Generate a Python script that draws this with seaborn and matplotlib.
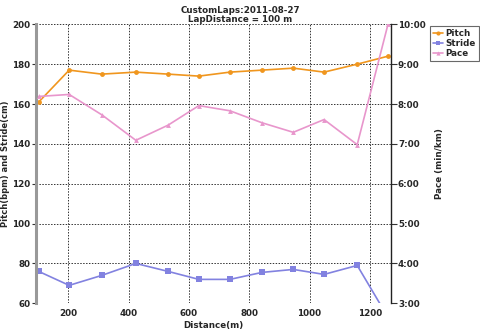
import matplotlib
matplotlib.use("Agg")
import matplotlib.pyplot as plt
import seaborn as sns
import pandas as pd
from matplotlib.ticker import FuncFormatter, MultipleLocator
from matplotlib.lines import Line2D

# Lap data
distance = [102, 203, 311, 424, 531, 633, 736, 842, 946, 1048, 1158, 1260]
pitch = [161, 177, 175, 176, 175, 174, 176, 177, 178, 176, 180, 184]
stride = [76, 69, 74, 80, 76, 72, 72, 75.5, 77, 74.5, 79, 53]
pace = [8.19, 8.24, 7.73, 7.09, 7.47, 7.96, 7.83, 7.53, 7.29, 7.61, 6.98, 10.0]

df = pd.DataFrame({"distance": distance, "pitch": pitch, "stride": stride, "pace": pace})

sns.set_style("white")
plt.rcParams["font.family"] = ["DejaVu Sans"]

C_PITCH = "#F0961E"
C_STRIDE = "#8282E0"
C_PACE = "#E896CC"

fig = plt.figure(figsize=(4.8, 3.31), dpi=100)
ax = fig.add_axes([36 / 480, 1 - 303.3 / 331, (391 - 36) / 480, (303.3 - 24.3) / 331])
ax2 = ax.twinx()

sns.lineplot(data=df, x="distance", y="pitch", ax=ax, color=C_PITCH, marker="o",
             markersize=3.5, markeredgewidth=0, linewidth=1.2)
sns.lineplot(data=df, x="distance", y="stride", ax=ax, color=C_STRIDE, marker="s",
             markersize=4, markeredgewidth=0, linewidth=1.2)
sns.lineplot(data=df, x="distance", y="pace", ax=ax2, color=C_PACE, marker="^",
             markersize=3.5, markeredgewidth=0, linewidth=1.2)

ax.set_xlim(93, 1270)
ax.set_ylim(60, 200)
ax2.set_ylim(3, 10)
ax.xaxis.set_major_locator(MultipleLocator(200))
ax.yaxis.set_major_locator(MultipleLocator(20))
ax2.yaxis.set_major_locator(MultipleLocator(1))
ax2.yaxis.set_major_formatter(FuncFormatter(lambda v, p: f"{int(round(v))}:00"))

ax.grid(True, color="#333333", linestyle=(0, (1.5, 1.5)), linewidth=0.7)
ax.set_axisbelow(True)

fs = 6.3
ax.tick_params(axis="both", labelsize=fs, length=3, width=0.8, color="#333333", pad=1)
ax2.tick_params(axis="y", labelsize=fs, length=4, width=0.8, color="#333333", pad=1)
for lab in ax.get_xticklabels() + ax.get_yticklabels() + ax2.get_yticklabels():
    lab.set_fontweight("bold")

for a in (ax, ax2):
    for s in a.spines.values():
        s.set_visible(False)
ax.spines["left"].set_visible(True)
ax.spines["left"].set_color("#999999")
ax.spines["left"].set_linewidth(2.2)
ax2.spines["right"].set_visible(True)
ax2.spines["right"].set_color("#222222")
ax2.spines["right"].set_linewidth(1.0)

ax.set_xlabel("Distance(m)", fontsize=fs, fontweight="bold", labelpad=2)
ax.set_ylabel("Pitch(bpm) and Stride(cm)", fontsize=6, fontweight="bold")
ax.yaxis.set_label_coords(-0.072, 0.5)
ax2.set_ylabel("Pace (min/km)", fontsize=fs, fontweight="bold", labelpad=7)

fig.text(0.5, 1 - 6 / 331, "CustomLaps:2011-08-27\nLapDistance = 100 m", ha="center",
         va="top", fontsize=fs, fontweight="bold", linespacing=1.0)

handles = [
    Line2D([], [], color=C_PITCH, marker="o", markersize=3, linewidth=1.2, markeredgewidth=0),
    Line2D([], [], color=C_STRIDE, marker="s", markersize=3.5, linewidth=1.2, markeredgewidth=0),
    Line2D([], [], color=C_PACE, marker="^", markersize=3, linewidth=1.2, markeredgewidth=0),
]
leg = fig.legend(handles, ["Pitch", "Stride", "Pace"], loc="upper left",
                 bbox_to_anchor=(430 / 480, 1 - 26 / 331), fontsize=fs, frameon=True,
                 fancybox=False, handlelength=1.2, handletextpad=0.3, borderpad=0.3,
                 labelspacing=0.15, borderaxespad=0)
leg.get_frame().set_edgecolor("#444444")
leg.get_frame().set_linewidth(0.8)
for t in leg.get_texts():
    t.set_fontweight("bold")

fig.savefig("out.png", dpi=100)
